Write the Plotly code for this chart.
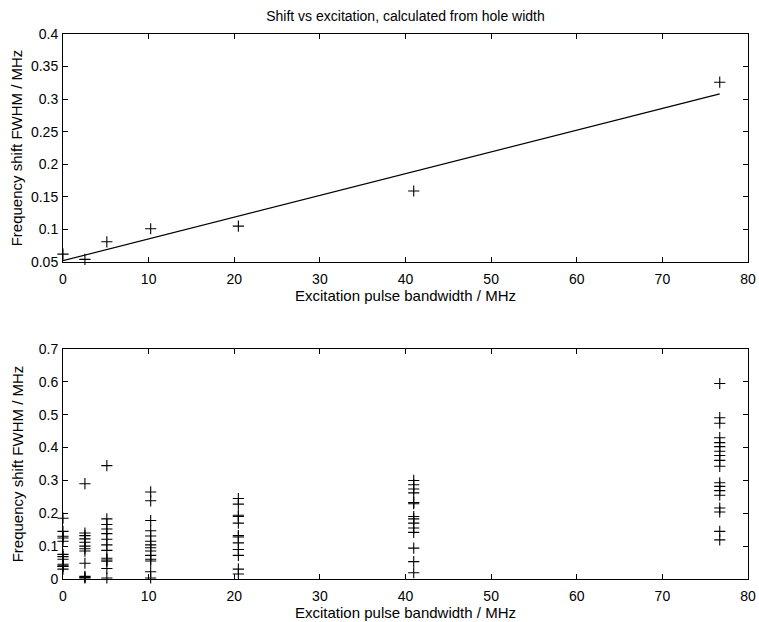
import plotly.graph_objects as go
from plotly.subplots import make_subplots

# ---- data ----
top_x = [0, 2.56, 5.12, 10.24, 20.48, 40.96, 76.7]
top_y = [0.062, 0.054, 0.081, 0.101, 0.105, 0.159, 0.326]
fit_x = [0, 76.7]
fit_y = [0.052, 0.308]

bw0 = [0.185, 0.145, 0.13, 0.125, 0.115, 0.075, 0.068, 0.06, 0.045, 0.04, 0.038, 0.03]
bw1 = [0.29, 0.14, 0.132, 0.122, 0.112, 0.1, 0.092, 0.085, 0.048, 0.008, 0.005, 0.003]
bw2 = [0.345, 0.183, 0.166, 0.152, 0.138, 0.121, 0.104, 0.087, 0.063, 0.058, 0.054, 0.032, 0.003]
bw3 = [0.265, 0.238, 0.178, 0.147, 0.131, 0.115, 0.104, 0.095, 0.085, 0.072, 0.06, 0.055, 0.022, 0.003]
bw4 = [0.245, 0.228, 0.194, 0.19, 0.17, 0.132, 0.128, 0.11, 0.09, 0.072, 0.03, 0.015]
bw5 = [0.30, 0.287, 0.274, 0.262, 0.233, 0.229, 0.19, 0.183, 0.17, 0.155, 0.142, 0.094, 0.053, 0.019]
bw6 = [0.595, 0.491, 0.474, 0.43, 0.415, 0.403, 0.389, 0.376, 0.361, 0.343, 0.293, 0.282,
       0.269, 0.255, 0.216, 0.204, 0.145, 0.119]
groups = [bw0, bw1, bw2, bw3, bw4, bw5, bw6]

title_text = "Shift vs excitation, calculated from hole width"
xlabel = "Excitation pulse bandwidth / MHz"
ylabel = "Frequency shift FWHM / MHz"

bx, by = [], []
for xv, vals in zip(top_x, groups):
    bx += [xv] * len(vals)
    by += vals

fig = make_subplots(rows=2, cols=1)
FONT = "Liberation Sans, Arial, sans-serif"
mk = dict(symbol="cross-thin-open", size=8, color="black", line=dict(color="black", width=1.1))

fig.add_trace(go.Scatter(x=top_x, y=top_y, mode="markers", marker=mk, cliponaxis=False,
                         showlegend=False), row=1, col=1)
fig.add_trace(go.Scatter(x=fit_x, y=fit_y, mode="lines", line=dict(color="black", width=1.2),
                         showlegend=False), row=1, col=1)
fig.add_trace(go.Scatter(x=bx, y=by, mode="markers", marker=mk, cliponaxis=False,
                         showlegend=False), row=2, col=1)

axis_common = dict(showline=True, linecolor="black", linewidth=1, mirror="ticks",
                   ticks="inside", ticklen=5, tickcolor="black", showgrid=False,
                   zeroline=False, automargin=False,
                   tickfont=dict(size=14, color="black", family=FONT))

fig.update_xaxes(**axis_common, range=[0, 80], dtick=10, tick0=0, ticklabelstandoff=4,
                 title=dict(text=xlabel, font=dict(size=15, color="black", family=FONT), standoff=2))
fig.update_yaxes(**axis_common, ticklabelstandoff=1)
fig.update_yaxes(range=[0.05, 0.4], dtick=0.05, tick0=0.05,
                 title=dict(text=ylabel, font=dict(size=15, color="black", family=FONT), standoff=4),
                 row=1, col=1)
fig.update_yaxes(range=[0, 0.7], dtick=0.1, tick0=0,
                 title=dict(text=ylabel, font=dict(size=15, color="black", family=FONT), standoff=11),
                 row=2, col=1)

fig.update_layout(
    width=759, height=622,
    margin=dict(l=63, r=11, t=34, b=43),
    paper_bgcolor="white", plot_bgcolor="white",
    font=dict(family=FONT, color="black"),
    title=dict(text=title_text, x=(63 + 748) / 2 / 759, xanchor="center", y=1 - 16 / 622,
               yanchor="middle", font=dict(size=14, color="black", family=FONT)),
)
fig.update_layout(yaxis=dict(domain=[0.5817, 1.0]), yaxis2=dict(domain=[0.0, 0.422]))

fig.write_html("out.html")
